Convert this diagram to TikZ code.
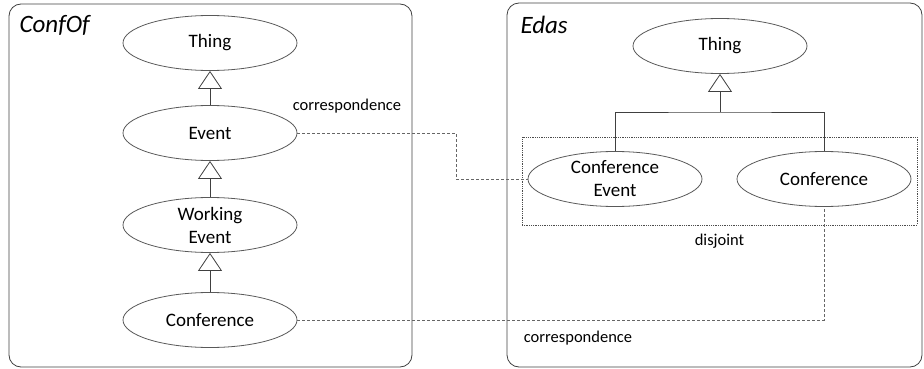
\documentclass[tikz,border=0pt]{standalone}
\usepackage{fontspec}
\setmainfont{Carlito}
\usetikzlibrary{shapes.geometric,arrows.meta}

\begin{document}
\begin{tikzpicture}[x=1pt,y=-1pt,
	every node/.style={font=\fontsize{19}{23}\selectfont},
	cls/.style={ellipse,draw=black!65,thick,minimum width=174pt,minimum height=55pt,inner sep=0pt,align=center},
	isa/.style={draw=black!75,thick,-{Triangle[open,length=18pt,width=24pt]}},
	corr/.style={draw=black!60,thick,dash pattern=on 3pt off 2pt},
	lbl/.style={font=\fontsize{16.5}{19}\selectfont},
	onto/.style={font=\fontsize{25}{28}\selectfont\itshape,anchor=west}
	]
	\useasboundingbox (0,0) rectangle (924,369);
	% the two ontologies
	\draw[black!75,thick,rounded corners=12pt] (9,4) rectangle (412,367);
	\draw[black!75,thick,rounded corners=12pt] (507,3) rectangle (922,367);
	\node[onto] (confof) at (16,25) {ConfOf};
	\node[onto] (edas) at (517,25) {Edas};
	% ConfOf classes
	\node[cls] (thingA) at (210,43) {Thing};
	\node[cls] (eventA) at (210,133) {Event};
	\node[cls] (workA) at (210,225) {Working\\Event};
	\node[cls] (confA) at (210,320) {Conference};
	\draw[isa] (eventA) -- (thingA);
	\draw[isa] (workA) -- (eventA);
	\draw[isa] (confA) -- (workA);
	% Edas classes
	\node[cls] (thingB) at (720,46) {Thing};
	\node[cls] (ceB) at (615,179) {Conference\\Event};
	\node[cls] (confB) at (824,179) {Conference};
	\coordinate (fork) at (720,112);
	\draw[black!75,thick] (ceB) |- (fork) -| (confB);
	\draw[isa] (fork) -- (thingB);
	\node[draw=black!70,densely dotted,thick,minimum width=395pt,minimum height=88pt,inner sep=0pt] (djbox) at (719.5,181) {};
	\node[lbl] (disj) at (djbox.south |- 0,241) {disjoint};
	% correspondences
	\coordinate (hop) at (456,133);
	\draw[corr] (eventA.east) -- (hop) |- (ceB.west);
	\draw[corr] (confA.east) -| (confB.south);
	\node[lbl] (corrA) at (347,106) {correspondence};
	\node[lbl] (corrB) at (578,338) {correspondence};
\end{tikzpicture}
\end{document}
